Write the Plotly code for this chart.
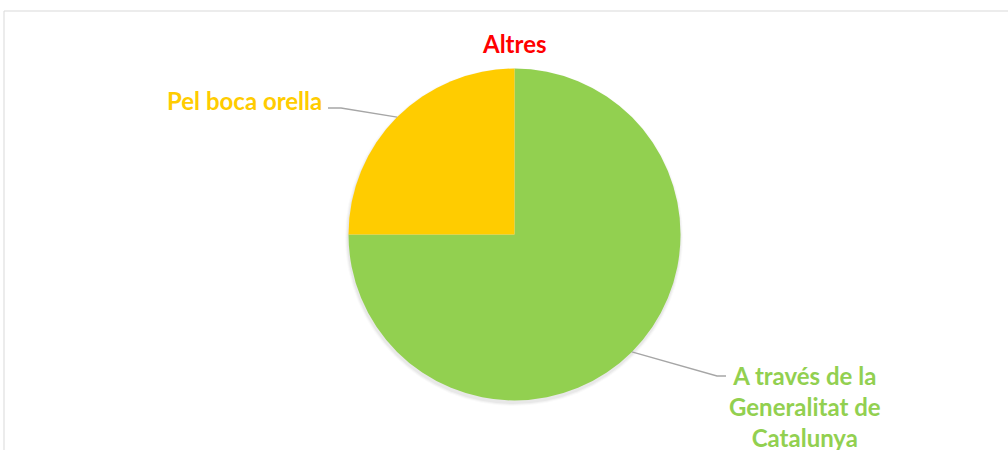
import math
import plotly.graph_objects as go

# ---- data ----
categories = ["A través de la Generalitat de Catalunya", "Altres", "Pel boca orella"]
values = [75, 0, 25]
label_texts = ["A través de la<br>Generalitat de<br>Catalunya", "Altres", "Pel boca orella"]
colors = ["#92D050", "#FF0000", "#FFCC00"]

W, H = 1008, 450
# pie placement (pixels)
CX, CY, R = 514.5, 234.5, 166

def px(x):
    return x / W

def py(y):
    return 1 - y / H

fig = go.Figure()

# soft shadow under the pie (decorative)
for k, a in [(3, 0.02), (2, 0.03), (1, 0.04)]:
    rr = R + k
    cy = CY + 2.5
    cx = CX - 0.5
    fig.add_trace(go.Pie(
        values=[1], labels=[""], sort=False,
        marker=dict(colors=[f"rgba(0,0,0,{a})"], line=dict(width=0)),
        textinfo="none", hoverinfo="skip", showlegend=False,
        domain=dict(x=[px(cx - rr), px(cx + rr)], y=[py(cy + rr), py(cy - rr)]),
    ))

fig.add_trace(go.Pie(
    labels=categories,
    values=values,
    sort=False,
    direction="clockwise",
    rotation=0,
    marker=dict(colors=colors, line=dict(width=0)),
    textinfo="none",
    hoverinfo="label+percent",
    showlegend=False,
    domain=dict(x=[px(CX - R), px(CX + R)], y=[py(CY + R), py(CY - R)]),
))

# label layout in pixels
label_layout = {
    0: dict(x=805, y=406, xanchor="center", knee=(717, 376), end=(726, 376)),
    1: dict(x=514, y=43, xanchor="center", knee=None, end=None),
    2: dict(x=324, y=100, xanchor="right", knee=(341, 108), end=(328, 108)),
}

total = sum(values)
cum = 0
shapes = []
annotations = []
for i, v in enumerate(values):
    mid = (cum + v / 2) / total * 2 * math.pi  # clockwise from 12 o'clock
    cum += v
    lay = label_layout[i]
    if lay["knee"] is not None:
        sx = CX + R * math.sin(mid)
        sy = CY - R * math.cos(mid)
        kx, ky = lay["knee"]
        ex, ey = lay["end"]
        path = f"M {px(sx)},{py(sy)} L {px(kx)},{py(ky)} L {px(ex)},{py(ey)}"
        shapes.append(dict(type="path", xref="paper", yref="paper", path=path,
                           line=dict(color="#A6A6A6", width=1.3)))
    annotations.append(dict(
        text=label_texts[i], xref="paper", yref="paper",
        x=px(lay["x"]), y=py(lay["y"]), xanchor=lay["xanchor"], yanchor="middle",
        align="center", showarrow=False,
        font=dict(family="Lato", size=24, color=colors[i], weight="bold"),
    ))

# chart area border
shapes.append(dict(type="rect", xref="paper", yref="paper",
                   x0=px(4), y0=-0.05, x1=1.05, y1=py(11),
                   line=dict(color="#D9D9D9", width=1), layer="below"))

fig.update_layout(
    width=W, height=H,
    margin=dict(l=0, r=0, t=0, b=0),
    paper_bgcolor="white",
    plot_bgcolor="white",
    shapes=shapes,
    annotations=annotations,
)

fig.write_html(
    "out.html",
    config={"displayModeBar": False},
    post_script="document.body.style.margin='0';document.body.style.overflow='hidden';",
)
